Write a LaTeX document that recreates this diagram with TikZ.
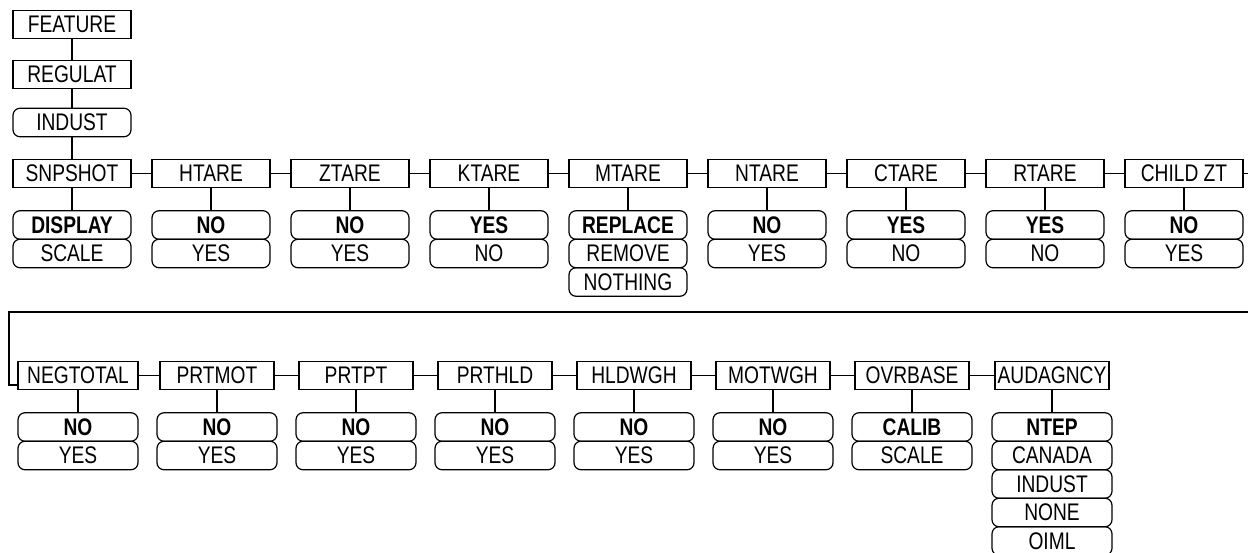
\documentclass[tikz,border=0pt]{standalone}
\usepackage{fontspec}
\setmainfont{Liberation Sans}[FakeStretch=0.8]
\usepackage{tikz}
\usetikzlibrary{positioning,calc}

\begin{document}
\begin{tikzpicture}[
    x=1pt, y=-1pt,
    line width=1.2pt,
    every node/.style={outer sep=0pt, inner sep=0pt, font=\fontsize{24}{28}\selectfont},
    menubox/.style={draw, rectangle, minimum width=118pt, minimum height=28.5pt},
    lowbox/.style={menubox, minimum width=114pt},
    optbox/.style={draw, rounded corners=7pt, minimum width=118pt, minimum height=28.5pt},
    lowopt/.style={optbox, minimum width=120pt},
    defopt/.style={font=\fontsize{24}{28}\selectfont\bfseries} % default choice in bold
]
\useasboundingbox (0,0) rectangle (1248,552);

% --- Top of the menu ---
\node[menubox] (feature) at (72,24.5) {FEATURE};
\node[menubox] (regulat) at (72,74.5) {REGULAT};
\node[optbox] (indust) at (72,122.5) {INDUST};
\draw (feature) -- (regulat) -- (indust);

% --- First row of parameters ---
\foreach \n/\t/\x in {snpshot/SNPSHOT/72,htare/HTARE/211,ztare/ZTARE/350,ktare/KTARE/489,
                      mtare/MTARE/628,ntare/NTARE/767,ctare/CTARE/906,rtare/RTARE/1045,childzt/CHILD ZT/1184}{
  \node[menubox] (\n) at (\x,173.5) {\t};
}
\draw (indust) -- (snpshot);
\foreach \a/\b in {snpshot/htare,htare/ztare,ztare/ktare,ktare/mtare,mtare/ntare,ntare/ctare,ctare/rtare,rtare/childzt}{
  \draw (\a) -- (\b);
}

% --- Choices of the first row ---
\foreach \n/\p/\q in {snpshot/DISPLAY/SCALE,htare/NO/YES,ztare/NO/YES,ktare/YES/NO,mtare/REPLACE/REMOVE,
                      ntare/NO/YES,ctare/YES/NO,rtare/YES/NO,childzt/NO/YES}{
  \node[optbox, defopt, below=23pt of \n] (\n-1) {\p};
  \node[optbox, below=0pt of \n-1] (\n-2) {\q};
  \draw (\n) -- (\n-1);
}
\node[optbox, below=0pt of mtare-2] (mtare-3) {NOTHING};

% --- Second row of parameters ---
\node[lowbox, minimum width=120pt] (negtotal) at (78,375.5) {NEGTOTAL};
\foreach \n/\t/\x in {prtmot/PRTMOT/217,prtpt/PRTPT/356,prthld/PRTHLD/495,hldwgh/HLDWGH/634,
                      motwgh/MOTWGH/773,ovrbase/OVRBASE/912,audagncy/AUDAGNCY/1052}{
  \node[lowbox] (\n) at (\x,375.5) {\t};
}
\foreach \a/\b in {negtotal/prtmot,prtmot/prtpt,prtpt/prthld,prthld/hldwgh,hldwgh/motwgh,motwgh/ovrbase,ovrbase/audagncy}{
  \draw (\a) -- (\b);
}

% --- Choices of the second row ---
\foreach \n/\p/\q in {negtotal/NO/YES,prtmot/NO/YES,prtpt/NO/YES,prthld/NO/YES,hldwgh/NO/YES,
                      motwgh/NO/YES,ovrbase/CALIB/SCALE,audagncy/NTEP/CANADA}{
  \node[lowopt, defopt, below=23pt of \n] (\n-1) {\p};
  \node[lowopt, below=0pt of \n-1] (\n-2) {\q};
  \draw (\n) -- (\n-1);
}
\node[lowopt, below=0pt of audagncy-2] (audagncy-3) {INDUST};
\node[lowopt, below=0pt of audagncy-3] (audagncy-4) {NONE};
\node[lowopt, below=0pt of audagncy-4] (audagncy-5) {OIML};

% --- Wrap from the first row to the second ---
\coordinate (wrapR) at (1249.5,312);
\coordinate (wrapL) at (9,312);
\coordinate (hook) at (9,385);
\draw (childzt) -- (childzt -| wrapR) -- (wrapR) -- (wrapL) -- (hook) -- (hook -| negtotal.west);

\end{tikzpicture}
\end{document}
